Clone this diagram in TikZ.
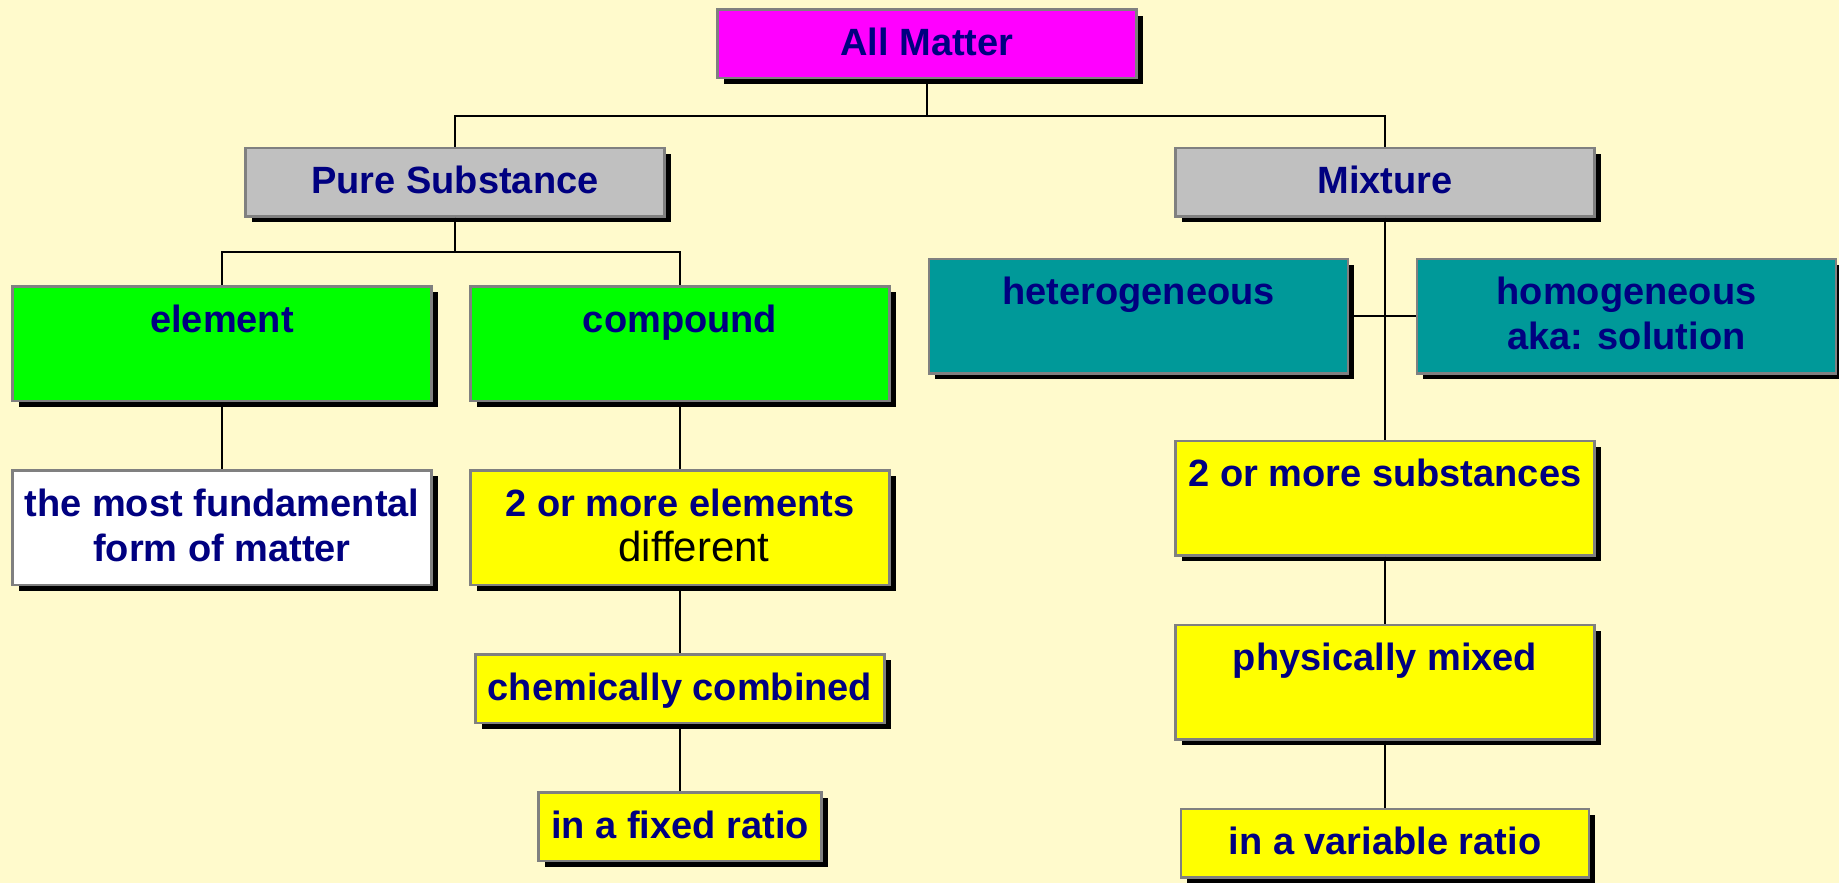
\documentclass[tikz,border=0pt]{standalone}
\usepackage{fontspec}
\setmainfont{Liberation Sans}
\usetikzlibrary{positioning,shadows}
\definecolor{bgyellow}{RGB}{255,250,204}
\definecolor{navytext}{RGB}{0,0,128}
\definecolor{rimgray}{RGB}{128,128,128}
\definecolor{magentaB}{RGB}{255,0,255}
\definecolor{grayB}{RGB}{192,192,192}
\definecolor{greenB}{RGB}{0,255,0}
\definecolor{tealB}{RGB}{0,153,153}
\definecolor{yellowB}{RGB}{255,255,0}
\tikzset{
  box/.style={rectangle, draw=rimgray, line width=2.5pt, align=center, text=navytext,
    font=\fontsize{38}{45}\selectfont\bfseries, inner xsep=4pt, inner ysep=0pt,
    minimum width=419pt,
    drop shadow={shadow xshift=6pt, shadow yshift=-6pt, fill=black, opacity=1}},
  shortbox/.style={box, text height=46pt, text depth=22.5pt},
  tallbox/.style={box, text height=46pt, text depth=68.5pt},
  pairbox/.style={box, text height=91pt, text depth=23.5pt},
  link/.style={draw=black, line width=2pt}
}
\begin{document}
\begin{tikzpicture}[x=1pt, y=-1pt]
\fill[bgyellow, use as bounding box] (0,0) rectangle (1839,883);

% top levels
\node[shortbox, fill=magentaB] (matter) at (927,44) {All Matter};
\node[shortbox, fill=grayB] (pure) at (455,182) {Pure Substance};
\node[shortbox, fill=grayB] (mixture) at (1385,182) {Mixture};

% pure substance branch
\node[tallbox, fill=greenB] (element) at (222,343.5) {element};
\node[tallbox, fill=greenB] (compound) at (680,343.5) {compound};
\node[pairbox, fill=white, below=67pt of element] (fundamental) {the most fundamental\\form of matter};
\node[pairbox, fill=yellowB, below=67pt of compound] (elements) {2 or more elements\\{\fontsize{42}{43}\selectfont\mdseries\color{black}\hspace*{28pt}different}};
\node[shortbox, fill=yellowB, minimum width=409pt, below=67pt of elements] (chemical) {chemically combined};
\node[shortbox, fill=yellowB, minimum width=283pt, below=67pt of chemical] (fixed) {in a fixed ratio};

% mixture branch
\node[tallbox, fill=tealB] (hetero) at (1138.5,316) {heterogeneous};
\node[pairbox, fill=tealB] (homo) at (1626.5,316) {homogeneous\\aka: solution};
\node[tallbox, fill=yellowB, below=222pt of mixture] (substances) {2 or more substances};
\node[tallbox, fill=yellowB, below=67pt of substances] (physical) {physically mixed};
\node[shortbox, fill=yellowB, minimum width=408pt, below=67pt of physical] (variable) {in a variable ratio};

\draw[link] (matter.south) -- ++(0,36) -| (pure.north);
\draw[link] (matter.south) -- ++(0,36) -| (mixture.north);
\draw[link] (pure.south) -- ++(0,34) -| (element.north);
\draw[link] (pure.south) -- ++(0,34) -| (compound.north);
\draw[link] (element) -- (fundamental);
\draw[link] (compound) -- (elements);
\draw[link] (elements) -- (chemical);
\draw[link] (chemical) -- (fixed);
\draw[link] (mixture) -- (substances);
\draw[link] (hetero) -- (homo);
\draw[link] (substances) -- (physical);
\draw[link] (physical) -- (variable);
\end{tikzpicture}
\end{document}
